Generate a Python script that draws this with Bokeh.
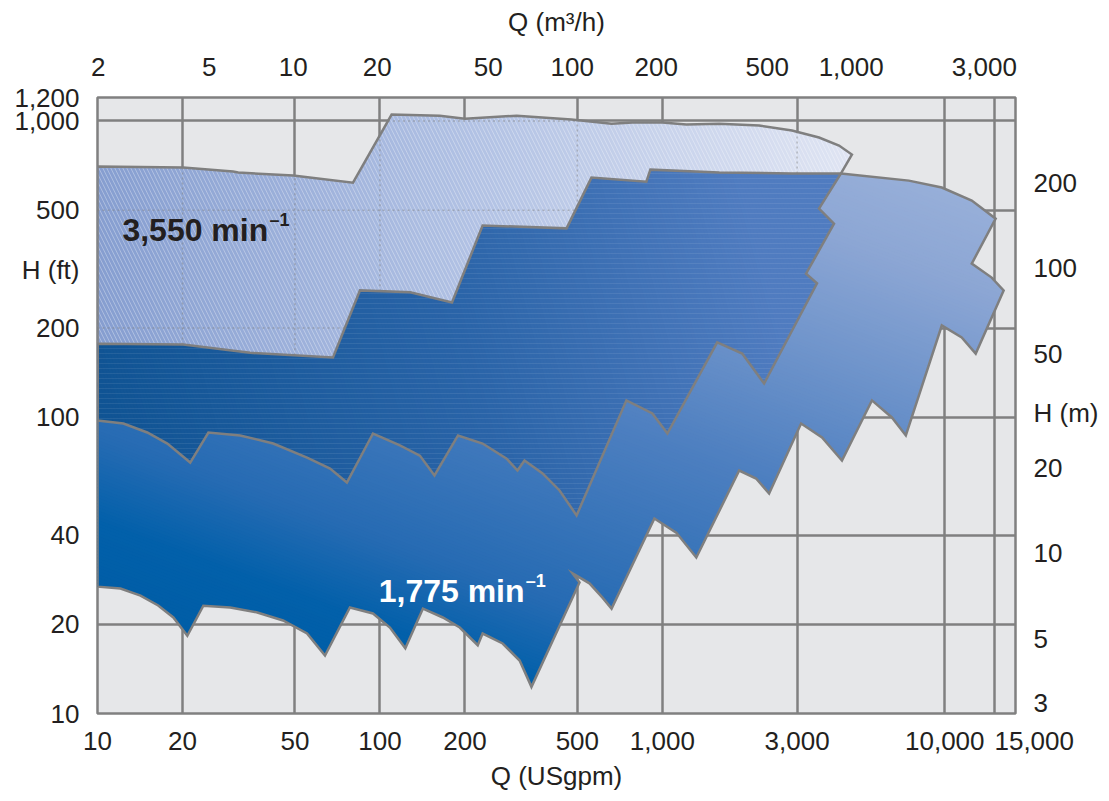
import math
from bokeh.plotting import figure
from bokeh.models import Range1d, LogAxis, LogScale, FixedTicker, NumeralTickFormatter, Label
from bokeh.embed import file_html
from bokeh.resources import INLINE

# ---------------- data ----------------
# axis ticks
q_gpm_ticks = [10, 20, 50, 100, 200, 500, 1000, 3000, 10000, 15000]
q_m3h_ticks = [2, 5, 10, 20, 50, 100, 200, 500, 1000, 3000]
h_ft_ticks = [10, 20, 40, 100, 200, 500, 1000, 1200]
h_m_ticks = [3, 5, 10, 20, 50, 100, 200]
# where the side titles sit in the tick-label columns
h_ft_title = ("H (ft)", 313)
h_m_title = ("H (m)", 31)

# 3,550 min-1 envelope (Q in USgpm, H in ft)
hi_top_q = [10, 20.1, 30.2, 31.5, 49.3, 80.3, 110, 163, 200, 305, 476, 661, 784, 1000, 1216, 1589,
            2202, 2877, 3587, 4222, 4690]
hi_top_h = [702, 696, 675, 670, 654, 619, 1051, 1042, 1018, 1042, 1011, 979, 988, 988, 973, 979,
            965, 928, 879, 826, 770]
hi_right_q = [4291, 3587, 4053, 3227, 3529, 2293, 1917, 1564, 1042, 922, 746, 497]
hi_right_h = [665, 506, 450, 305, 283, 130, 164, 179, 88.1, 103, 114, 46.6]
hi_bottom_q = [432.5, 376.7, 325, 307, 281, 231, 189, 156, 138.5, 117.7, 94.5, 76.4, 66.6, 55.2,
               41.9, 32.0, 24.7, 21.3, 17.67, 15.0, 12.35, 10]
hi_bottom_h = [56.6, 64.6, 71.4, 66.1, 72.5, 81.5, 86.8, 63.6, 74.2, 80.3, 88.1, 60.2, 67.1, 73.1,
               81.5, 86.8, 88.8, 70.3, 81.5, 88.8, 95.2, 97.5]

# 1,775 min-1 envelope (Q in USgpm, H in ft)
lo_top_q = [10, 20.1, 34.7, 68.2, 85, 128, 180, 231, 458, 561, 878, 907, 1589, 2877, 4291]
lo_top_h = [177, 176, 165, 159, 268, 264, 244, 444, 434, 644, 624, 685, 670, 665, 665]
lo_topright_q = [7460, 9759, 12460, 15140]
lo_topright_h = [629, 596, 538.8, 468]
lo_right_q = [12460, 14660, 16160, 12870, 11480, 9760, 7280, 6497, 5521, 4325, 3676, 3099,
              2388, 2148, 1871, 1319, 1120, 937, 661, 613.8, 552, 481, 509, 344]
lo_right_h = [330, 296, 268, 164, 185.8, 204, 86.8, 99.8, 114, 71.4, 85.4, 95.2,
              55.3, 62.1, 66.1, 33.6, 40.8, 45.5, 22.6, 24.6, 27.5, 29.7, 27.7, 12.3]
lo_bottom_q = [312.4, 272, 231, 222, 191.7, 167, 142, 123, 108.5, 94.5, 78.3, 63.9, 55.2, 45.4,
               36.8, 29.5, 23.7, 20.8, 18.56, 16.4, 14.2, 12.06, 10]
lo_bottom_h = [15.09, 17.23, 18.62, 17.0, 19.51, 21.09, 22.6, 16.6, 19.51, 21.76, 22.8, 15.7, 18.62, 20.6,
               21.93, 22.8, 23.1, 18.3, 21.09, 23.15, 25.0, 26.4, 26.8]

# speed labels
speed_text = ["3,550 min", "1,775 min"]
speed_q = [12.25, 99]
speed_h = [427, 26.0]
speed_color = ["#231f20", "#ffffff"]

# ---------------- polygons ----------------
hi_q = hi_top_q + hi_right_q + hi_bottom_q
hi_h = hi_top_h + hi_right_h + hi_bottom_h
lo_q = lo_top_q + lo_topright_q + lo_right_q + lo_bottom_q
lo_h = lo_top_h + lo_topright_h + lo_right_h + lo_bottom_h
both_q = lo_top_q + hi_right_q[1:] + hi_bottom_q
both_h = lo_top_h + hi_right_h[1:] + hi_bottom_h

# ---------------- geometry helpers ----------------
LX, LY = 283.0, 296.3  # decade sizes (only to keep gradient direction isotropic)


def cut(poly, nx, ny, c):
    """Parts of a simple polygon where nx*x + ny*y >= c (proper split, no bridges)."""
    d = [nx * x + ny * y - c for x, y in poly]
    if all(v >= 0 for v in d):
        return [poly]
    if all(v < 0 for v in d):
        return []
    n = len(poly)
    pts = []
    for i in range(n):
        P = poly[i]
        Q = poly[(i + 1) % n]
        dp, dq = d[i], d[(i + 1) % n]
        if dp >= 0:
            pts.append((P[0], P[1], None))
        if (dp >= 0) != (dq >= 0):
            t = dp / (dp - dq)
            pts.append((P[0] + t * (Q[0] - P[0]), P[1] + t * (Q[1] - P[1]),
                        "exit" if dp >= 0 else "entry"))
    inter = [i for i, p in enumerate(pts) if p[2] is not None]
    srt = sorted(inter, key=lambda i: -ny * pts[i][0] + nx * pts[i][1])
    partner = {}
    for k in range(0, len(srt) - 1, 2):
        partner[srt[k]] = srt[k + 1]
        partner[srt[k + 1]] = srt[k]
    m = len(pts)
    visited = set()
    pieces = []
    for start in inter:
        if pts[start][2] != "entry" or start in visited:
            continue
        piece = []
        i = start
        guard = 0
        while guard < 4 * m:
            guard += 1
            visited.add(i)
            piece.append((pts[i][0], pts[i][1]))
            if pts[i][2] == "exit":
                j = partner.get(i)
                if j is None or j == start:
                    break
                i = j
                continue
            i = (i + 1) % m
            if i == start:
                break
        if len(piece) >= 3:
            pieces.append(piece)
    return pieces


def lerp_color(stops, t):
    if t <= stops[0][0]:
        c = stops[0][1]
    elif t >= stops[-1][0]:
        c = stops[-1][1]
    else:
        c = stops[-1][1]
        for (t0, c0), (t1, c1) in zip(stops, stops[1:]):
            if t0 <= t <= t1:
                f = (t - t0) / (t1 - t0)
                c = tuple(c0[i] + (c1[i] - c0[i]) * f for i in range(3))
                break
    return "#%02x%02x%02x" % tuple(int(round(v)) for v in c)


def gradient_bands(qs, hs, ang_deg, stops, step=3.0, overlap=1.0):
    a = math.radians(ang_deg)
    nx, ny = math.cos(a), math.sin(a)
    pts = [((math.log10(q) - 1) * LX, (math.log10(h) - 1) * LY) for q, h in zip(qs, hs)]
    ts = [nx * x + ny * y for x, y in pts]
    t0, t1 = min(ts), max(ts)
    n = max(1, int(math.ceil((t1 - t0) / step)))
    xs, ys, cols = [], [], []
    for i in range(n):
        a0 = t0 + i * step
        a1 = a0 + step + overlap
        col = lerp_color(stops, a0 + step / 2)
        for piece in cut(pts, nx, ny, a0):
            for sub in cut(piece, -nx, -ny, -a1):
                xs.append([10 ** (x / LX + 1) for x, _ in sub])
                ys.append([10 ** (y / LY + 1) for _, y in sub])
                cols.append(col)
    return xs, ys, cols


def inside_intervals(qs, hs, vertical, c):
    """Intervals (in log units) of the line Q=c (vertical) or H=c inside a polygon."""
    pts = [(math.log10(q), math.log10(h)) for q, h in zip(qs, hs)]
    lc = math.log10(c)
    vals = []
    n = len(pts)
    for i in range(n):
        P, Q = pts[i], pts[(i + 1) % n]
        a, b = (P[0], Q[0]) if vertical else (P[1], Q[1])
        if (a - lc) * (b - lc) < 0:
            t = (lc - a) / (b - a)
            vals.append(P[1] + t * (Q[1] - P[1]) if vertical else P[0] + t * (Q[0] - P[0]))
    vals.sort()
    return [(vals[k], vals[k + 1]) for k in range(0, len(vals) - 1, 2)]


def subtract(intervals, holes):
    out = []
    for a, b in intervals:
        segs = [(a, b)]
        for ha, hb in holes:
            nxt = []
            for s, e in segs:
                if hb <= s or ha >= e:
                    nxt.append((s, e))
                else:
                    if ha > s:
                        nxt.append((s, ha))
                    if hb < e:
                        nxt.append((hb, e))
            segs = nxt
        out += segs
    return out


# ---------------- figure ----------------
FONT = "Liberation Sans"
TXT = "#231f20"
GRID = "#808080"

p = figure(width=1101, height=800, x_axis_type="log", y_axis_type="log",
           x_range=Range1d(10, 17800), y_range=Range1d(10, 1200),
           output_backend="svg", toolbar_location=None,
           min_border_left=97, min_border_right=84, min_border_top=97, min_border_bottom=87)
p.background_fill_color = "#e6e7e9"
p.border_fill_color = "white"
p.outline_line_color = GRID
p.outline_line_width = 2.5

p.extra_x_ranges = {"m3h": Range1d(1.99, 3880)}
p.extra_x_scales = {"m3h": LogScale()}
p.extra_y_ranges = {"m": Range1d(2.745, 398)}
p.extra_y_scales = {"m": LogScale()}

bottom_axis = p.below[0]
left_axis = p.left[0]
bottom_axis.ticker = FixedTicker(ticks=q_gpm_ticks)
left_axis.ticker = FixedTicker(ticks=h_ft_ticks + [h_ft_title[1]])
bottom_axis.formatter = NumeralTickFormatter(format="0,0")
left_axis.formatter = NumeralTickFormatter(format="0,0")
# last bottom label sits to the right of its grid line, as in the original
bottom_axis.major_label_overrides = {q_gpm_ticks[-1]: "\u00a0" * 11 + "{:,}".format(q_gpm_ticks[-1])}
left_axis.major_label_overrides = {h_ft_title[1]: h_ft_title[0]}

top_axis = LogAxis(x_range_name="m3h", ticker=FixedTicker(ticks=q_m3h_ticks),
                   formatter=NumeralTickFormatter(format="0,0"))
right_axis = LogAxis(y_range_name="m", ticker=FixedTicker(ticks=h_m_ticks + [h_m_title[1]]),
                     formatter=NumeralTickFormatter(format="0,0"),
                     major_label_overrides={h_m_title[1]: h_m_title[0]})
p.add_layout(top_axis, "above")
p.add_layout(right_axis, "right")

for ax in [bottom_axis, left_axis, top_axis, right_axis]:
    ax.axis_line_color = None
    ax.major_tick_line_color = None
    ax.minor_tick_line_color = None
    ax.major_tick_out = 0
    ax.major_tick_in = 0
    ax.major_label_text_font = FONT
    ax.major_label_text_font_size = "26px"
    ax.major_label_text_color = TXT
    ax.major_label_standoff = 18
    ax.axis_label_text_font = FONT
    ax.axis_label_text_font_size = "26px"
    ax.axis_label_text_font_style = "normal"
    ax.axis_label_text_color = TXT

bottom_axis.axis_label = "Q (USgpm)"
bottom_axis.major_label_standoff = 12
bottom_axis.axis_label_standoff = 2
top_axis.axis_label = "Q (m\u00b3/h)"
top_axis.major_label_standoff = 22
top_axis.axis_label_standoff = 18

p.xgrid.grid_line_color = GRID
p.xgrid.grid_line_width = 2.5
p.ygrid.grid_line_color = GRID
p.ygrid.grid_line_width = 2.5
p.ygrid.ticker = FixedTicker(ticks=h_ft_ticks)

# 1,775 only region (bottom + right)
lo_stops = [(100, (0, 93, 166)), (180, (2, 96, 170)), (260, (38, 107, 179)),
            (450, (77, 127, 192)), (700, (140, 166, 212)), (820, (156, 179, 219))]
xs, ys, cs = gradient_bands(lo_q, lo_h, 70, lo_stops)
p.patches(xs, ys, fill_color=cs, line_color=None)

# 3,550 only region (light)
hi_stops = [(0, (134, 158, 208)), (380, (178, 194, 228)), (760, (224, 229, 243))]
xs, ys, cs = gradient_bands(hi_q, hi_h, 0, hi_stops)
p.patches(xs, ys, fill_color=cs, line_color=None)
p.patch(hi_q, hi_h, fill_color=None, line_color=None,
        hatch_pattern="left_diagonal_line", hatch_color="white",
        hatch_alpha=0.3, hatch_scale=8, hatch_weight=1)

# grid showing faintly through the translucent 3,550-only area
seg = {"x0": [], "y0": [], "x1": [], "y1": []}
for q in q_gpm_ticks[1:]:
    for a, b in subtract(inside_intervals(hi_q, hi_h, True, q), inside_intervals(both_q, both_h, True, q)):
        seg["x0"].append(q); seg["x1"].append(q); seg["y0"].append(10 ** a); seg["y1"].append(10 ** b)
for h in h_ft_ticks[1:-1]:
    for a, b in subtract(inside_intervals(hi_q, hi_h, False, h), inside_intervals(both_q, both_h, False, h)):
        seg["y0"].append(h); seg["y1"].append(h); seg["x0"].append(10 ** a); seg["x1"].append(10 ** b)
p.segment(x0=seg["x0"], y0=seg["y0"], x1=seg["x1"], y1=seg["y1"],
          line_color=GRID, line_alpha=0.45, line_width=1.5, line_dash="2 3")

# overlap region (dark)
both_stops = [(0, (10, 80, 143)), (450, (42, 100, 168)), (760, (80, 124, 192))]
xs, ys, cs = gradient_bands(both_q, both_h, 15, both_stops)
p.patches(xs, ys, fill_color=cs, line_color=None)
p.patch(both_q, both_h, fill_color=None, line_color=None,
        hatch_pattern="horizontal_line", hatch_color="white",
        hatch_alpha=0.08, hatch_scale=5, hatch_weight=1)

# outlines
p.patch(lo_q, lo_h, fill_color=None, line_color="#7f7f7f", line_width=2.5, line_join="miter")
p.patch(hi_q, hi_h, fill_color=None, line_color="#7f7f7f", line_width=2.5, line_join="miter")

# speed labels
for t, q, h, c in zip(speed_text, speed_q, speed_h, speed_color):
    p.add_layout(Label(x=q, y=h, text=t, text_font=FONT, text_font_style="bold",
                       text_font_size="32px", text_color=c, text_align="left",
                       text_baseline="alphabetic"))
    p.add_layout(Label(x=q, y=h, text="\u20131", text_font=FONT, text_font_style="bold",
                       text_font_size="18px", text_color=c, text_align="left",
                       text_baseline="alphabetic", x_offset=147, y_offset=10))

open("out.html", "w").write(file_html(p, INLINE))
